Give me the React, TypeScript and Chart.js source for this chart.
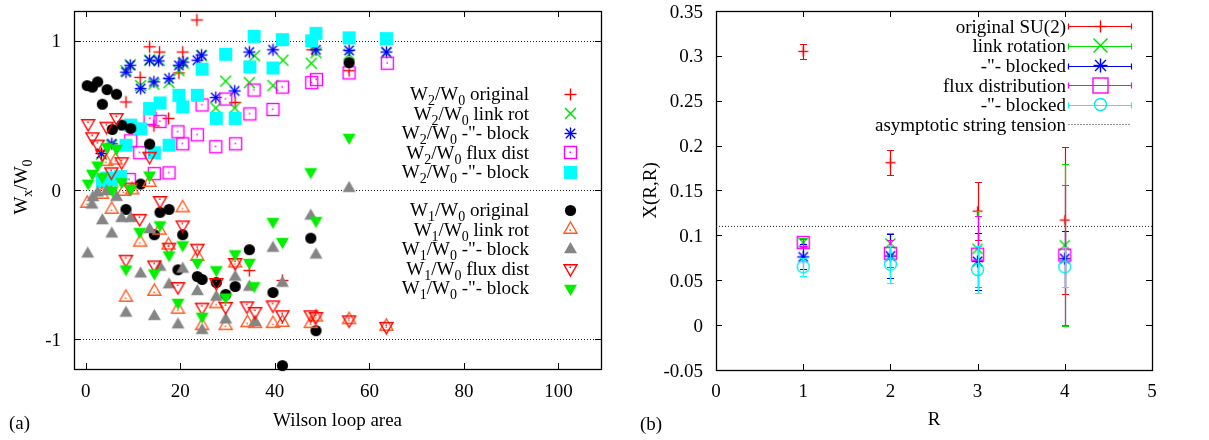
import React, { useEffect, useRef } from "react";
import { Chart, registerables } from "chart.js";

Chart.register(...registerables);

const SERIF = '"Liberation Serif", "DejaVu Serif", serif';
const FS = 19;
const SUB = 14;
const SUB_DY = 5;

// ================= Panel (a): W_x/W_0 vs Wilson loop area =================
const areaTicks = [0, 20, 40, 60, 80, 100];
const ratioTicks = [-1, 0, 1];
const areaMin = -2.5;
const areaMax = 109;
const ratioMin = -1.2;
const ratioMax = 1.2;

type P = [number, number];

const w2Original: P[] = [
  [8.5, 0.59], [11.5, 0.755], [13.5, 0.96], [14.4, 0.43], [15.6, 0.925], [17.5, 0.48],
  [19.7, 0.785], [20.5, 0.925], [23.5, 1.14], [31.6, 0.587], [34.6, -0.54], [41.6, -0.607],
  [47.9, 0.94], [55.7, 0.8],
];
const w2LinkRot: P[] = [
  [3.3, 0.24], [5.5, 0.3], [8.5, 0.8], [9.4, 0.84], [11.6, 0.7], [13.5, 0.87], [14.4, 0.71],
  [15.5, 0.87], [17.6, 0.72], [19.7, 0.8], [20.6, 0.85], [24.5, 0.9], [27.5, 0.55], [29.6, 0.73],
  [31.5, 0.55], [34.6, 0.72], [35.7, 0.9], [39.6, 0.7], [41.7, 0.87], [47.7, 0.85], [48.7, 0.92],
  [55.7, 0.91], [63.6, 0.92],
];
const w2LinkBlk: P[] = [
  [3.3, 0.245], [5.5, 0.31], [8.5, 0.79], [9.4, 0.836], [11.6, 0.68], [13.5, 0.87], [14.4, 0.725],
  [15.4, 0.865], [17.6, 0.747], [19.7, 0.836], [20.6, 0.858], [23.6, 0.87], [24.5, 0.905],
  [27.5, 0.62], [31.5, 0.664], [34.6, 0.925], [39.6, 0.94], [48.7, 0.94], [55.7, 0.936], [63.6, 0.925],
];
const w2Flux: P[] = [
  [4.2, 0.06], [9.2, 0.07], [9.5, 0.33], [11.4, 0.25], [13.6, 0.48], [14.5, 0.11], [15.7, 0.46],
  [17.6, 0.115], [19.5, 0.39], [20.5, 0.31], [23.6, 0.37], [24.6, 0.57], [27.5, 0.29], [29.6, 0.61],
  [31.7, 0.31], [34.7, 0.51], [35.6, 0.67], [39.6, 0.54], [41.6, 0.69], [47.8, 0.72], [48.8, 0.74],
  [55.7, 0.785], [63.8, 0.85],
];
const w2FluxBlk: P[] = [
  [3.5, 0.06], [4.5, 0.08], [5.4, 0.07], [7.3, 0.09], [8.5, 0.3], [9.5, 0.435], [11.6, 0.41],
  [13.5, 0.546], [14.5, 0.25], [15.7, 0.584], [17.6, 0.3], [19.7, 0.635], [20.5, 0.557],
  [23.6, 0.635], [24.6, 0.81], [27.6, 0.48], [29.6, 0.91], [31.6, 0.48], [34.7, 0.825],
  [35.6, 1.03], [39.6, 0.818], [41.6, 1.008], [47.8, 1.0], [48.7, 1.05], [55.7, 1.02], [63.6, 1.015],
];
const w1Original: P[] = [
  [0.3, 0.7], [1.4, 0.69], [2.5, 0.725], [3.5, 0.575], [4.5, 0.673], [5.6, 0.406], [6.5, 0.642],
  [7.6, 0.435], [8.5, -0.13], [9.5, 0.413], [11.6, 0.04], [13.5, 0.308], [14.5, -0.3],
  [15.7, -0.15], [17.6, -0.13], [19.5, -0.535], [20.5, -0.3], [23.6, -0.58], [24.6, -0.6],
  [27.6, -0.62], [29.6, -0.7], [31.6, -0.647], [34.6, -0.4], [39.6, -0.687], [41.6, -1.177],
  [47.6, -0.323], [48.7, -0.943], [55.7, 0.854],
];
const w1LinkRot: P[] = [
  [0.3, -0.09], [3.4, -0.03], [4.3, 0.19], [5.5, -0.13], [6.3, 0.2], [8, -0.01], [8.5, -0.72],
  [9.8, 0.0], [11.5, -0.35], [13.5, 0.05], [14.5, -0.68], [15.6, -0.27], [17.5, -0.37],
  [19.5, -0.8], [20.5, -0.12], [23.6, -0.446], [24.6, -0.91], [27.6, -0.763], [29.6, -0.91],
  [31.6, -0.49], [34.2, -0.89], [35.8, -0.896], [39.6, -0.896], [41.6, -0.888], [47.6, -0.896],
  [48.7, -0.852], [55.7, -0.87], [63.6, -0.914],
];
const w1LinkBlk: P[] = [
  [0.4, -0.428], [1.3, -0.1], [1.5, -0.05], [2.5, -0.02], [3.5, -0.205], [4.4, -0.01],
  [5.5, -0.294], [6.5, -0.049], [7.6, -0.19], [8.5, -0.825], [9.5, -0.19], [11.6, -0.562],
  [13.5, -0.265], [14.5, -0.847], [15.7, -0.517], [17.6, -0.635], [19.5, -0.903], [20.5, -0.53],
  [23.6, -0.68], [24.6, -0.941], [27.6, -0.718], [29.6, -0.87], [31.6, -0.584], [34.6, -0.651],
  [35.8, -0.888], [39.6, -0.39], [41.6, -0.624], [47.6, -0.174], [48.7, -0.435], [55.7, 0.011],
];
const w1Flux: P[] = [
  [0.5, 0.446], [1.4, 0.357], [2.5, 0.308], [3.5, 0.241], [4.4, 0.428], [5.4, 0.122], [6.5, 0.486],
  [7.6, 0.19], [9.5, 0.02], [8.5, -0.464], [11.4, -0.19], [13.5, 0.227], [14.5, -0.502],
  [15.7, -0.07], [17.6, -0.383], [19.5, -0.647], [20.5, -0.234], [23.6, -0.39], [24.6, -0.785],
  [27.6, -0.62], [29.6, -0.78], [31.6, -0.486], [34.1, -0.776], [35.8, -0.814], [39.6, -0.77],
  [41.6, -0.836], [47.6, -0.836], [48.7, -0.847], [55.7, -0.87], [63.6, -0.914],
];
const w1FluxBlk: P[] = [
  [0.5, 0.045], [1.4, 0.111], [2.5, 0.167], [3.5, 0.089], [4.5, 0.29], [5.6, 0.0], [6.5, 0.279],
  [7.6, 0.056], [8.5, -0.53], [9.5, 0.011], [11.4, -0.279], [13.5, 0.1], [14.5, -0.557],
  [15.7, -0.234], [17.6, -0.435], [19.5, -0.754], [20.5, -0.368], [23.6, -0.486], [24.6, -0.847],
  [27.6, -0.535], [29.6, -0.718], [31.6, -0.428], [34.6, -0.486], [35.6, -0.642], [39.6, -0.212],
  [41.6, -0.346], [47.6, 0.122], [48.7, -0.205], [55.7, 0.352],
];

// ================= Panel (b): X(R,R) vs R =================
const rValues = [1, 2, 3, 4];
const rTicks = [0, 1, 2, 3, 4, 5];
const chiTicks = [-0.05, 0, 0.05, 0.1, 0.15, 0.2, 0.25, 0.3, 0.35];
const chiOriginal = [0.305, 0.181, 0.127, 0.117];
const errOriginal = [0.0085, 0.014, 0.032, 0.082];
const chiLinkRot = [0.092, 0.091, 0.085, 0.089];
const errLinkRot = [0.005, 0.012, 0.042, 0.09];
const chiLinkBlk = [0.076, 0.077, 0.071, 0.074];
const errLinkBlk = [0.014, 0.025, 0.032, 0.031];
const chiFlux = [0.092, 0.08, 0.079, 0.078];
const errFlux = [0.004, 0.015, 0.043, 0.078];
const chiFluxBlk = [0.065, 0.068, 0.062, 0.065];
const errFluxBlk = [0.01, 0.021, 0.026, 0.022];
const stringTension = 0.11;

// ================= helpers =================
type Seg = [string, boolean?];

function richWidth(ctx: CanvasRenderingContext2D, segs: Seg[]) {
  let w = 0;
  for (const [t, sub] of segs) {
    ctx.font = `${sub ? SUB : FS}px ${SERIF}`;
    w += ctx.measureText(t).width;
  }
  return w;
}
function drawRich(ctx: CanvasRenderingContext2D, segs: Seg[], x: number, y: number, align: string) {
  const w = richWidth(ctx, segs);
  let cx = align === "right" ? x - w : align === "center" ? x - w / 2 : x;
  ctx.textAlign = "left";
  ctx.textBaseline = "alphabetic";
  for (const [t, sub] of segs) {
    ctx.font = `${sub ? SUB : FS}px ${SERIF}`;
    ctx.fillText(t, cx, sub ? y + SUB_DY : y);
    cx += ctx.measureText(t).width;
  }
}

type Kind = "plus" | "cross" | "star" | "box" | "boxF" | "circle" | "circleF" | "triUp" | "triUpF" | "triDown" | "triDownF";

function makeMarker(kind: Kind, color: string, h: number, dot = false, lw = 1.4): HTMLCanvasElement {
  const S = Math.ceil(h) * 2 + 5;
  const c = document.createElement("canvas");
  c.width = S;
  c.height = S;
  const g = c.getContext("2d")!;
  const cx = S / 2;
  const cy = S / 2;
  g.strokeStyle = color;
  g.fillStyle = color;
  g.lineWidth = lw;
  const line = (a: number, b: number, d: number, e: number) => {
    g.beginPath();
    g.moveTo(a, b);
    g.lineTo(d, e);
    g.stroke();
  };
  if (kind === "plus" || kind === "star") {
    line(cx - h, cy, cx + h, cy);
    line(cx, cy - h, cx, cy + h);
  }
  if (kind === "cross" || kind === "star") {
    const d = kind === "star" ? h * 0.78 : h;
    line(cx - d, cy - d, cx + d, cy + d);
    line(cx - d, cy + d, cx + d, cy - d);
  }
  if (kind === "box") g.strokeRect(cx - h, cy - h, 2 * h, 2 * h);
  if (kind === "boxF") g.fillRect(cx - h - 0.5, cy - h - 0.5, 2 * h + 1, 2 * h + 1);
  if (kind === "circle" || kind === "circleF") {
    g.beginPath();
    g.arc(cx, cy, h, 0, Math.PI * 2);
    if (kind === "circleF") g.fill();
    else g.stroke();
  }
  if (kind.startsWith("tri")) {
    const up = kind.startsWith("triUp");
    const ht = h * Math.sqrt(3);
    const s = up ? 1 : -1;
    g.beginPath();
    g.moveTo(cx, cy - s * (ht * 2) / 3);
    g.lineTo(cx + h, cy + s * ht / 3);
    g.lineTo(cx - h, cy + s * ht / 3);
    g.closePath();
    if (kind.endsWith("F")) g.fill();
    else g.stroke();
  }
  if (dot) g.fillRect(Math.floor(cx) - 0.5, Math.floor(cy) - 0.5 + (kind.startsWith("triUp") ? 1 : kind.startsWith("triDown") ? -1 : 0), 1.5, 1.5);
  return c;
}

function drawTicksAndFrame(chart: any, xt: number[], yt: number[], len: number) {
  const { ctx, chartArea: a, scales } = chart;
  ctx.save();
  ctx.strokeStyle = "#000";
  ctx.lineWidth = 1;
  ctx.beginPath();
  for (const v of xt) {
    const x = Math.round(scales.x.getPixelForValue(v)) + 0.5;
    ctx.moveTo(x, a.bottom);
    ctx.lineTo(x, a.bottom - len);
    ctx.moveTo(x, a.top);
    ctx.lineTo(x, a.top + len);
  }
  for (const v of yt) {
    const y = Math.round(scales.y.getPixelForValue(v)) + 0.5;
    ctx.moveTo(a.left, y);
    ctx.lineTo(a.left + len, y);
    ctx.moveTo(a.right, y);
    ctx.lineTo(a.right - len, y);
  }
  ctx.stroke();
  ctx.lineWidth = 1.3;
  ctx.strokeRect(Math.round(a.left) + 0.5, Math.round(a.top) + 0.5, Math.round(a.right - a.left), Math.round(a.bottom - a.top));
  ctx.restore();
}

function drawTickLabels(chart: any, xt: number[], yt: number[], fmt: (v: number) => string, xBase: number, yRight: number) {
  const { ctx, scales } = chart;
  ctx.save();
  ctx.fillStyle = "#000";
  ctx.font = `${FS}px ${SERIF}`;
  ctx.textAlign = "center";
  ctx.textBaseline = "alphabetic";
  for (const v of xt) ctx.fillText(fmt(v), scales.x.getPixelForValue(v), xBase);
  ctx.textAlign = "right";
  for (const v of yt) ctx.fillText(fmt(v), yRight, scales.y.getPixelForValue(v) + 6.5);
  ctx.restore();
}

const fmtNum = (v: number) => String(Math.round(v * 100) / 100);

// ================= component =================
export default function App() {
  const refA = useRef<HTMLCanvasElement>(null);
  const refB = useRef<HTMLCanvasElement>(null);

  useEffect(() => {
    const W2: Seg[] = [["W"], ["2", true], ["/W"], ["0", true]];
    const W1: Seg[] = [["W"], ["1", true], ["/W"], ["0", true]];
    const GREEN = "#00e000";
    const seriesA = [
      { data: w2Original, m: makeMarker("plus", "#ff0000", 6), label: [...W2, [" original"]] as Seg[] },
      { data: w2LinkRot, m: makeMarker("cross", GREEN, 5.5, false, 1.5), label: [...W2, [" link rot"]] as Seg[] },
      { data: w2LinkBlk, m: makeMarker("star", "#0000ff", 6), label: [...W2, [' -"- block']] as Seg[] },
      { data: w2Flux, m: makeMarker("box", "#ff00ff", 6, true), label: [...W2, [" flux dist"]] as Seg[] },
      { data: w2FluxBlk, m: makeMarker("boxF", "#00ffff", 6), label: [...W2, [' -"- block']] as Seg[] },
      { data: w1Original, m: makeMarker("circleF", "#000000", 5.6), label: [...W1, [" original"]] as Seg[] },
      { data: w1LinkRot, m: makeMarker("triUp", "#ff5a1f", 6.5, true), label: [...W1, [" link rot"]] as Seg[] },
      { data: w1LinkBlk, m: makeMarker("triUpF", "#858585", 6.5), label: [...W1, [' -"- block']] as Seg[] },
      { data: w1Flux, m: makeMarker("triDown", "#ff0000", 6.5, true), label: [...W1, [" flux dist"]] as Seg[] },
      { data: w1FluxBlk, m: makeMarker("triDownF", "#00f000", 6.5), label: [...W1, [' -"- block']] as Seg[] },
    ];
    const legendRowsA = [94, 113.5, 133, 152.5, 172, 210, 229.5, 249, 268.5, 288];

    const pluginA = {
      id: "panelA",
      beforeDatasetsDraw(chart: any) {
        const { ctx, chartArea: a, scales } = chart;
        ctx.save();
        ctx.strokeStyle = "#222";
        ctx.lineWidth = 1;
        ctx.setLineDash([1, 2]);
        for (const v of ratioTicks) {
          const y = Math.round(scales.y.getPixelForValue(v)) + 0.5;
          ctx.beginPath();
          ctx.moveTo(a.left, y);
          ctx.lineTo(a.right, y);
          ctx.stroke();
        }
        ctx.restore();
        drawTicksAndFrame(chart, areaTicks, ratioTicks, 6);
      },
      afterDraw(chart: any) {
        const { ctx, chartArea: a } = chart;
        drawTickLabels(chart, areaTicks, ratioTicks, fmtNum, 397, 61);
        ctx.save();
        ctx.fillStyle = "#000";
        ctx.font = `${FS}px ${SERIF}`;
        ctx.textAlign = "center";
        ctx.fillText("Wilson loop area", (a.left + a.right) / 2, 426);
        ctx.textAlign = "left";
        ctx.fillText("(a)", 9, 429);
        ctx.save();
        ctx.translate(27, 187);
        ctx.rotate(-Math.PI / 2);
        drawRich(ctx, [["W"], ["x", true], ["/W"], ["0", true]], 0, 0, "center");
        ctx.restore();
        seriesA.forEach((s, i) => {
          const y = legendRowsA[i];
          ctx.fillStyle = "#000";
          drawRich(ctx, s.label, 529, y + 6, "right");
          ctx.drawImage(s.m, Math.round(570 - s.m.width / 2), Math.round(y - s.m.height / 2));
        });
        ctx.restore();
      },
    };

    const chartA = new Chart(refA.current!, {
      type: "scatter",
      data: {
        datasets: seriesA.map((s, i) => ({
          data: s.data.map(([x, y]) => ({ x, y })),
          pointStyle: s.m as any,
          pointRadius: 6,
          order: -i,
          clip: false as any,
        })),
      },
      options: {
        animation: false,
        responsive: false,
        devicePixelRatio: 1,
        layout: { padding: { left: 74, right: 19, top: 11, bottom: 71 } },
        plugins: { legend: { display: false }, tooltip: { enabled: false } },
        scales: {
          x: { type: "linear", min: areaMin, max: areaMax, display: false },
          y: { type: "linear", min: ratioMin, max: ratioMax, display: false },
        },
      },
      plugins: [pluginA],
    });

    // -------- panel (b) --------
    const seriesB = [
      { y: chiOriginal, e: errOriginal, c: "#ff0000", m: makeMarker("plus", "#ff0000", 5), lm: makeMarker("plus", "#ff0000", 6), label: "original SU(2)" },
      { y: chiLinkRot, e: errLinkRot, c: GREEN, m: makeMarker("cross", GREEN, 5, false, 1.5), lm: makeMarker("cross", GREEN, 7, false, 1.5), label: "link rotation" },
      { y: chiLinkBlk, e: errLinkBlk, c: "#0000ff", m: makeMarker("star", "#0000ff", 6), lm: makeMarker("star", "#0000ff", 7), label: '-"- blocked' },
      { y: chiFlux, e: errFlux, c: "#ff00ff", m: makeMarker("box", "#ff00ff", 6), lm: makeMarker("box", "#ff00ff", 7.5), label: "flux distribution" },
      { y: chiFluxBlk, e: errFluxBlk, c: "#00ffff", m: makeMarker("circle", "#00e8e8", 6), lm: makeMarker("circle", "#00e8e8", 6), label: '-"- blocked' },
    ];
    const legendRowsB = [26, 45.7, 65.5, 85, 104.5, 124];

    const pluginB = {
      id: "panelB",
      beforeDatasetsDraw(chart: any) {
        drawTicksAndFrame(chart, rTicks, chiTicks, 6);
      },
      beforeDatasetDraw(chart: any, args: any) {
        const s = seriesB[args.index];
        if (!s) return;
        const { ctx, scales } = chart;
        ctx.save();
        ctx.strokeStyle = s.c;
        ctx.lineWidth = 1.2;
        args.meta.data.forEach((pt: any, i: number) => {
          const x = Math.round(pt.x) + 0.5;
          const yt = Math.round(scales.y.getPixelForValue(s.y[i] + s.e[i])) + 0.5;
          const yb = Math.round(scales.y.getPixelForValue(s.y[i] - s.e[i])) + 0.5;
          ctx.beginPath();
          ctx.moveTo(x, yt);
          ctx.lineTo(x, yb);
          ctx.moveTo(x - 3.5, yt);
          ctx.lineTo(x + 3.5, yt);
          ctx.moveTo(x - 3.5, yb);
          ctx.lineTo(x + 3.5, yb);
          ctx.stroke();
        });
        ctx.restore();
      },
      afterDraw(chart: any) {
        const { ctx, chartArea: a } = chart;
        drawTickLabels(chart, rTicks, chiTicks, fmtNum, 397, 83);
        ctx.save();
        ctx.fillStyle = "#000";
        ctx.font = `${FS}px ${SERIF}`;
        ctx.textAlign = "center";
        ctx.fillText("R", (a.left + a.right) / 2, 425);
        ctx.textAlign = "left";
        ctx.fillText("(b)", 20, 430);
        ctx.save();
        ctx.translate(36, (a.top + a.bottom) / 2);
        ctx.rotate(-Math.PI / 2);
        ctx.textAlign = "center";
        ctx.fillText("X(R,R)", 0, 0);
        ctx.restore();
        const x1 = 448.5, x2 = 511.5, xm = (x1 + x2) / 2;
        seriesB.forEach((s, i) => {
          const y = legendRowsB[i];
          ctx.fillStyle = "#000";
          ctx.textAlign = "right";
          ctx.fillText(s.label, 446, y + 6.5);
          const yy = Math.round(y) + 0.5;
          ctx.strokeStyle = s.c;
          ctx.lineWidth = 1.2;
          ctx.beginPath();
          ctx.moveTo(x1, yy);
          ctx.lineTo(x2, yy);
          ctx.moveTo(x1, yy - 3);
          ctx.lineTo(x1, yy + 3);
          ctx.moveTo(x2, yy - 3);
          ctx.lineTo(x2, yy + 3);
          ctx.stroke();
          ctx.drawImage(s.lm, Math.round(xm - s.lm.width / 2), Math.round(y - s.lm.height / 2));
        });
        const y = legendRowsB[5];
        ctx.fillStyle = "#000";
        ctx.textAlign = "right";
        ctx.fillText("asymptotic string tension", 446, y + 6.5);
        ctx.strokeStyle = "#222";
        ctx.lineWidth = 1;
        ctx.setLineDash([1, 2]);
        ctx.beginPath();
        ctx.moveTo(x1, Math.round(y) + 0.5);
        ctx.lineTo(x2, Math.round(y) + 0.5);
        ctx.stroke();
        ctx.restore();
      },
    };

    const chartB = new Chart(refB.current!, {
      type: "scatter",
      data: {
        datasets: [
          ...seriesB.map((s, i) => ({
            data: rValues.map((r, k) => ({ x: r, y: s.y[k] })),
            pointStyle: s.m as any,
            pointRadius: 6,
            order: -i,
            clip: false as any,
          })),
          {
            type: "line" as const,
            data: [
              { x: rTicks[0], y: stringTension },
              { x: rTicks[rTicks.length - 1], y: stringTension },
            ],
            borderColor: "#222",
            borderWidth: 1,
            borderDash: [1, 2],
            pointRadius: 0,
            order: -10,
          },
        ],
      },
      options: {
        animation: false,
        responsive: false,
        devicePixelRatio: 1,
        layout: { padding: { left: 96, right: 57, top: 11, bottom: 70 } },
        plugins: { legend: { display: false }, tooltip: { enabled: false } },
        scales: {
          x: { type: "linear", min: rTicks[0], max: rTicks[rTicks.length - 1], display: false },
          y: { type: "linear", min: chiTicks[0], max: chiTicks[chiTicks.length - 1], display: false },
        },
      },
      plugins: [pluginB],
    });

    return () => {
      chartA.destroy();
      chartB.destroy();
    };
  }, []);

  return (
    <div style={{ position: "absolute", left: 0, top: 0, width: 1209, height: 440, background: "#fff" }}>
      <canvas ref={refA} width={620} height={440} style={{ position: "absolute", left: 0, top: 0, width: 620, height: 440 }} />
      <canvas ref={refB} width={589} height={440} style={{ position: "absolute", left: 620, top: 0, width: 589, height: 440 }} />
    </div>
  );
}
